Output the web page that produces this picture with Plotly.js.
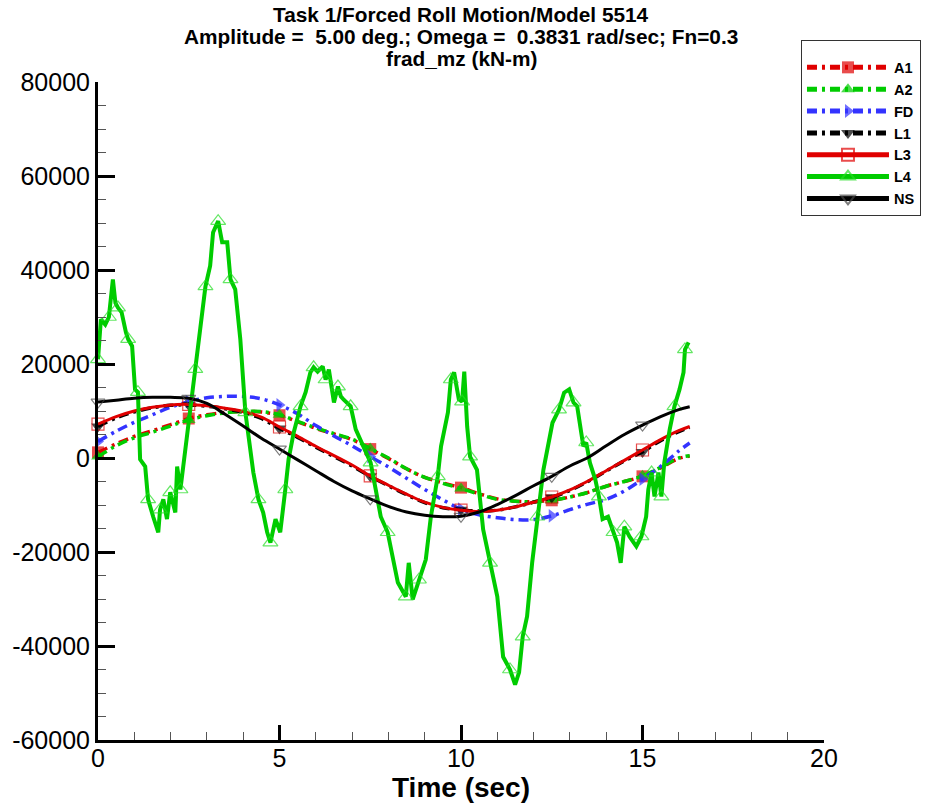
<!DOCTYPE html>
<html><head><meta charset="utf-8">
<script src="https://cdn.plot.ly/plotly-3.0.1.min.js"></script>
<style>body{margin:0;background:#fff}</style>
</head><body><div id="chart" style="width:933px;height:805px"></div>
<script>
// ---- data ----
const timeSmooth = [0,0.5,1,1.5,2,2.5,3,3.5,4,4.5,5,5.5,6,6.5,7,7.5,8,8.5,9,9.5,10,10.5,11,11.5,12,12.5,13,13.5,14,14.5,15,15.5,16,16.3];
const seriesA1 = [1200,3000,4600,5800,7100,8400,9200,9700,9900,9800,9100,7700,6300,5100,3900,1900,-100,-2300,-4100,-5300,-6300,-7600,-8700,-9200,-9300,-9000,-8300,-7300,-6000,-5000,-3900,-2100,-100,400];
const seriesA2 = [300,2600,4300,5500,6800,8100,9000,9600,9900,9900,9200,7800,6400,5200,4000,2000,0,-2300,-4100,-5400,-6500,-7700,-8800,-9200,-9300,-9000,-8300,-7300,-6000,-5000,-3800,-2000,0,500];
const seriesFD = [3500,5700,7600,9200,10800,12000,12800,13100,13100,12600,11300,9400,6900,4700,2600,300,-1900,-4300,-6700,-8900,-10900,-12100,-12700,-13100,-13100,-12300,-11000,-9800,-8800,-7000,-4500,-1800,1500,3200];
const seriesL1 = [6700,8500,9800,10700,11200,11300,11000,10500,9700,8400,6300,4400,2300,300,-1700,-3900,-5900,-7800,-9500,-10600,-11000,-11300,-11100,-10400,-9400,-8400,-6900,-5000,-2800,-600,1300,3700,5600,6500];
const seriesL3 = [7200,8800,10000,10800,11300,11400,11100,10600,9900,8700,6600,4600,2500,500,-1500,-3800,-5800,-7700,-9400,-10500,-11100,-11400,-11100,-10400,-9400,-8300,-6800,-4900,-2700,-500,1700,3900,5800,6700];
const seriesNS = [11900,12300,12700,12900,12900,12700,11600,9300,6800,4200,1900,-400,-2700,-5000,-7000,-8700,-10300,-11500,-12200,-12500,-12400,-11500,-9900,-8000,-5900,-3900,-1700,100,2600,5000,7000,8800,10300,10900];

const timeL4 = [0,0.08,0.2,0.3,0.41,0.48,0.55,0.65,0.77,0.83,0.94,1.02,1.1,1.16,1.3,1.38,1.52,1.66,1.71,1.8,1.9,1.99,2.13,2.18,2.27,2.4,2.54,2.68,2.76,2.9,2.96,3.09,3.17,3.31,3.42,3.56,3.65,3.78,3.92,4.06,4.13,4.28,4.42,4.55,4.66,4.75,4.89,5.02,5.16,5.25,5.39,5.58,5.72,5.85,5.94,6.05,6.19,6.27,6.36,6.5,6.61,6.69,6.77,6.96,7.1,7.32,7.51,7.65,7.79,7.98,8.12,8.26,8.48,8.56,8.67,8.84,9.03,9.17,9.36,9.45,9.64,9.72,9.81,9.94,10.03,10.09,10.17,10.25,10.44,10.61,10.8,11.0,11.16,11.35,11.49,11.6,11.7,11.82,11.96,12.1,12.27,12.52,12.7,12.84,12.98,13.1,13.2,13.37,13.45,13.55,13.7,13.8,13.9,14.05,14.2,14.3,14.4,14.5,14.64,14.83,14.97,15.1,15.16,15.25,15.33,15.44,15.52,15.6,15.75,15.88,16.02,16.13,16.17,16.27];
const seriesL4 = [21000,29500,28400,30000,38000,33000,32000,31000,26700,25300,23800,14600,14000,-300,-1800,-8800,-12500,-15800,-11000,-8800,-13000,-7300,-11600,-1800,-6700,1200,11000,18900,24600,31600,36500,40900,48000,50400,45900,45900,38000,35900,25300,9700,5400,-3100,-8800,-11600,-15800,-18000,-13000,-15800,-6700,-300,5400,11000,14000,18200,19300,18400,19500,16700,18800,11800,15200,13100,12400,11000,6100,2500,-1000,-6700,-12500,-15800,-21000,-26500,-29500,-22300,-30100,-25900,-21600,-12500,-3900,2500,9700,16700,18200,12500,12000,18400,6700,300,-2500,-15200,-22300,-29500,-42300,-45000,-48200,-45600,-38000,-33700,-22300,-12500,-2500,7500,10300,13900,14600,11800,11000,2500,3300,-1000,-4600,-8200,-13000,-12500,-15800,-18000,-22300,-14600,-16700,-18800,-16700,-12500,-6700,-3100,-8200,-3100,-8200,-1000,6100,11000,14600,18200,23100,24600];

const seriesNames = ['A1','A2','FD','L1','L3','L4','NS'];
const yTickVals = [-60000,-40000,-20000,0,20000,40000,60000,80000];
const yTickText = ['-60000','-40000','-20000','0','20000','40000','60000','80000'];
const titleLines = ['Task 1/Forced Roll Motion/Model 5514','Amplitude = \u00a05.00 deg.; Omega = \u00a00.3831 rad/sec; Fn=0.3','frad_mz (kN-m)'];
const xTitle = 'Time (sec)';

// ---- styling ----
const RED='#e00000', GREEN='#00cc00', BLUE='#3333ff', BLACK='#000000';
const DASH='10px,5px,3px,5px';
function sizes(n, every, s){ return Array.from({length:n}, (_,i)=> (i%every===0) ? s : 0); }
const nS = timeSmooth.length;

function smoothTrace(name, y, color, dash, symbol, open, width){
  return {
    type:'scatter', mode:'lines+markers', name:name, x:timeSmooth, y:y,
    line:{color:color, width:width, dash:dash, shape:'spline', smoothing:1},
    marker:{symbol:symbol, color:color, size:sizes(nS,5,12), line:{width: open?1.2:0, color:color}},
    cliponaxis:false
  };
}

const traces = [
  smoothTrace(seriesNames[0], seriesA1, RED, DASH, 'square', false, 3.5),
  smoothTrace(seriesNames[1], seriesA2, GREEN, DASH, 'triangle-up', false, 3.5),
  smoothTrace(seriesNames[2], seriesFD, BLUE, DASH, 'triangle-right', false, 3.5),
  smoothTrace(seriesNames[3], seriesL1, BLACK, DASH, 'triangle-down', false, 3.5),
  smoothTrace(seriesNames[4], seriesL3, RED, 'solid', 'square-open', true, 3),
  {
    type:'scatter', mode:'lines+markers', name:seriesNames[5], x:timeL4, y:seriesL4,
    line:{color:GREEN, width:4},
    marker:{symbol:'triangle-up-open', color:'#22dd22', size:sizes(timeL4.length,3,13), line:{width:1.2, color:'#22dd22'}},
    cliponaxis:false
  },
  smoothTrace(seriesNames[6], seriesNS, BLACK, 'solid', 'triangle-down-open', true, 3)
];
traces[6].marker.color = '#444';
traces[6].marker.line.color = '#444';

// plot area: x 98..824 px, y 82..740 px
const PT = 82, PH = 658;
function pyPaper(px){ return (PT + PH - px) / PH; }

const annotations = [
  {text:'<b>'+titleLines[0]+'</b>', y:pyPaper(14)},
  {text:'<b>'+titleLines[1]+'</b>', y:pyPaper(37)},
  {text:'<b>'+titleLines[2]+'</b>', y:pyPaper(59)}
].map(a => Object.assign(a, {xref:'paper', yref:'paper', x:0.5, xanchor:'center', yanchor:'middle', showarrow:false, font:{size:20.8, color:'black'}}));
annotations.push({text:'<b>'+xTitle+'</b>', xref:'paper', yref:'paper', x:0.5, y:pyPaper(787), xanchor:'center', yanchor:'middle', showarrow:false, font:{size:28, color:'black'}});

const layout = {
  width:933, height:805,
  margin:{l:98, r:109, t:82, b:65},
  paper_bgcolor:'white', plot_bgcolor:'white',
  font:{family:'Arial, "Liberation Sans", sans-serif', color:'black'},
  showlegend:true,
  annotations: annotations,
  xaxis:{
    range:[0,20], tick0:0, dtick:5, ticks:'inside', ticklen:15, tickwidth:3, tickcolor:'black',
    showline:true, linewidth:3, linecolor:'black', showgrid:false, zeroline:false,
    tickfont:{size:25}, ticklabelstandoff:-6,
    minor:{tickmode:'linear', tick0:0, dtick:1, ticks:'inside', ticklen:8, tickwidth:1, tickcolor:'#555', showgrid:false}
  },
  yaxis:{
    range:[-60000,80000], tickmode:'array', tickvals:yTickVals, ticktext:yTickText,
    ticks:'inside', ticklen:17, tickwidth:3, tickcolor:'black',
    showline:true, linewidth:3, linecolor:'black', showgrid:false, zeroline:false,
    tickfont:{size:25},
    minor:{tickmode:'linear', tick0:0, dtick:5000, ticks:'inside', ticklen:8, tickwidth:1, tickcolor:'#555', showgrid:false}
  },
  legend:{
    x:0.9683, xanchor:'left', y:1.0638, yanchor:'top',
    bgcolor:'white', bordercolor:'#333', borderwidth:1,
    font:{size:14.5, weight:'bold', color:'black'},
    title:{text:' ', font:{size:8}},
    itemwidth:82, itemsizing:'constant', tracegroupgap:0
  }
};

Plotly.newPlot('chart', traces, layout, {displayModeBar:false, staticPlot:true});
</script>
</body></html>
